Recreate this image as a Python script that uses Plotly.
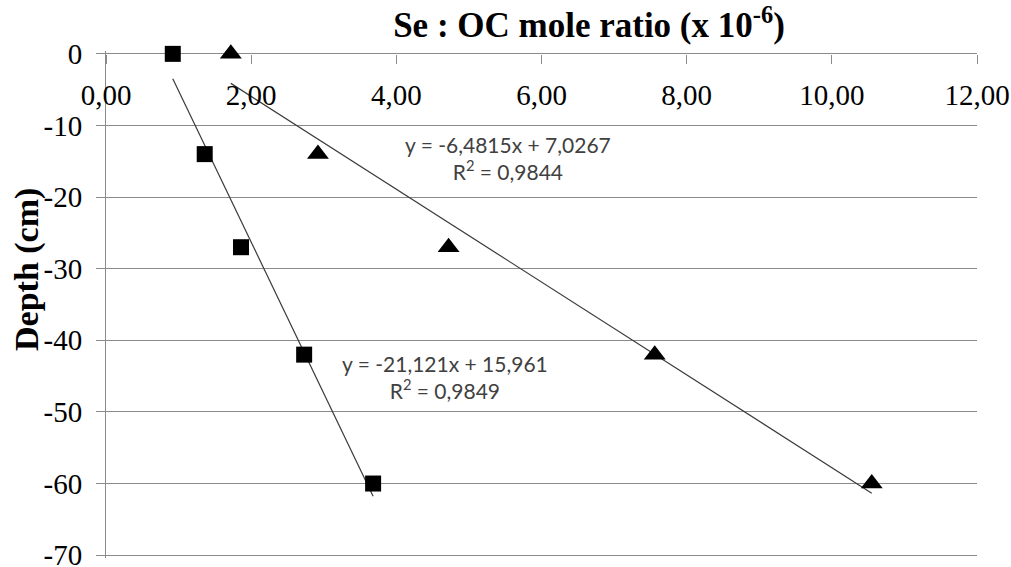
import numpy as np
import plotly.graph_objects as go

# Depth of each sediment layer (cm)
depth = [0, -14, -27, -42, -60]

# Se : OC mole ratio (x 10^-6) for the two cores
ratio_square = [0.92, 1.36, 1.86, 2.73, 3.68]
ratio_triangle = [1.72, 2.92, 4.72, 7.56, 10.55]

# Linear trendlines as reported: y = slope * x + intercept
fit_square = (-21.121, 15.961, 0.9849)
fit_triangle = (-6.4815, 7.0267, 0.9844)

x_ticks = [0, 2, 4, 6, 8, 10, 12]
x_tick_text = ["0,00", "2,00", "4,00", "6,00", "8,00", "10,00", "12,00"]
y_ticks = [0, -10, -20, -30, -40, -50, -60, -70]
y_tick_text = ["0", "-10", "-20", "-30", "-40", "-50", "-60", "-70"]

GRID = "#8a8a8a"
LINE = "#3a3a3a"
SERIF = "Liberation Serif"
SANS = "Lato"

W, H = 1011, 567
Y_RANGE = [-70.4, 0.4]
PX_PER_UNIT = 501.0 / 70.0
ML, MR = 106, 34
MT = int(round(54 - Y_RANGE[1] * PX_PER_UNIT))
MB = int(round(H - 555 - (-70 - Y_RANGE[0]) * PX_PER_UNIT))
PW, PH = W - ML - MR, H - MT - MB


def fmt(v, nd):
    return f"{v:.{nd}f}".replace(".", ",")


def trend(xs, fit):
    slope, intercept, _ = fit
    xx = np.array([min(xs), max(xs)])
    return xx, slope * xx + intercept


def eq_text(fit, nd_s, nd_i):
    slope, intercept, r2 = fit
    return (f"y = {fmt(slope, nd_s)}x + {fmt(intercept, nd_i)}<br>"
            f"R<sup>2</sup> = {fmt(r2, 4)}")


fig = go.Figure()

for xs, fit in [(ratio_square, fit_square), (ratio_triangle, fit_triangle)]:
    tx, ty = trend(xs, fit)
    fig.add_trace(go.Scatter(x=tx, y=ty, mode="lines",
                             line=dict(color=LINE, width=1.2),
                             hoverinfo="skip", showlegend=False))

fig.add_trace(go.Scatter(x=ratio_square, y=depth, mode="markers",
                         marker=dict(symbol="square", size=16, color="black"),
                         showlegend=False, cliponaxis=False))
fig.add_trace(go.Scatter(x=ratio_triangle, y=depth, mode="markers",
                         marker=dict(symbol="triangle-up", size=19, color="black"),
                         showlegend=False, cliponaxis=False))

fig.add_annotation(x=5.54, y=-14.5, xref="x", yref="y",
                   text=eq_text(fit_triangle, 4, 4), showarrow=False,
                   align="center", font=dict(family=SANS, size=21, color="#404040"))
fig.add_annotation(x=4.67, y=-45.1, xref="x", yref="y",
                   text=eq_text(fit_square, 3, 3), showarrow=False,
                   align="center", font=dict(family=SANS, size=21, color="#404040"))

# Rotated y-axis title, placed in paper fractions of the plot area
fig.add_annotation(x=(27 - ML) / PW, y=1 - (270 - MT) / PH,
                   xref="paper", yref="paper", xanchor="center", yanchor="middle",
                   text="<b>Depth (cm)</b>", textangle=-90, showarrow=False,
                   font=dict(family=SERIF, size=34, color="black"))

# x axis drawn where depth = 0, labels hanging below it
x_axis_pos = (0 - Y_RANGE[0]) / (Y_RANGE[1] - Y_RANGE[0])

fig.update_layout(
    width=W, height=H,
    margin=dict(l=ML, r=MR, t=MT, b=MB, autoexpand=False),
    paper_bgcolor="white", plot_bgcolor="white",
    title=dict(text="<b>Se : OC mole ratio (x 10<sup>-6</sup>)</b>",
               x=(589 - ML) / PW, xanchor="center", y=1 - 25 / H, yanchor="middle",
               xref="paper", yref="container",
               font=dict(family=SERIF, size=35, color="black")),
    xaxis=dict(range=[0, 12], side="bottom", anchor="free", position=x_axis_pos,
               automargin=False, showgrid=False, zeroline=False, showline=False,
               ticks="outside", ticklen=9, tickcolor=GRID,
               tickvals=x_ticks, ticktext=x_tick_text,
               ticklabelstandoff=6, ticklabeloverflow="allow",
               tickfont=dict(family=SERIF, size=29, color="black")),
    yaxis=dict(range=Y_RANGE, automargin=False,
               showgrid=True, gridcolor=GRID, gridwidth=1,
               zeroline=False, showline=True, linecolor=GRID, linewidth=1,
               ticks="outside", ticklen=9, tickcolor=GRID,
               tickvals=y_ticks, ticktext=y_tick_text,
               ticklabelstandoff=8, ticklabeloverflow="allow",
               tickfont=dict(family=SERIF, size=29, color="black")),
)

fig.write_html("out.html")
